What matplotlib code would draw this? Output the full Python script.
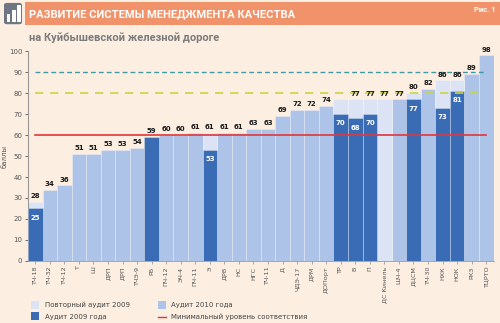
import matplotlib
matplotlib.use("Agg")
import matplotlib.pyplot as plt
from matplotlib.patches import Rectangle, FancyBboxPatch
from matplotlib.lines import Line2D
import numpy as np

categories = ["ТЧ-18", "ТЧ-32", "ТЧ-12", "Т", "Ш", "ДРП", "ДРП", "ТЧЭ-9", "РБ", "ПЧ-12",
              "ЭЧ-4", "ПЧ-11", "Э", "ДРВ", "НС", "НГС", "ТЧ-11", "Д", "ЧДЭ-17", "ДРМ",
              "ДОПорт", "ТР", "В", "П", "ДС Кинель", "ШЧ-4", "ДЦСМ", "ТЧ-30", "НХК", "НОК",
              "РКЗ", "ТЦРТО"]
# Аудит 2010 года (medium blue)
audit2010 = [0, 34, 36, 51, 51, 53, 53, 54, 0, 60,
             60, 61, 0, 61, 61, 63, 63, 69, 72, 72,
             74, 0, 0, 0, 0, 77, 0, 82, 0, 0,
             89, 98]
# Повторный аудит 2009 (pale)
repeat2009 = [28, 0, 0, 0, 0, 0, 0, 0, 0, 0,
              0, 0, 61, 0, 0, 0, 0, 0, 0, 0,
              0, 77, 77, 77, 77, 0, 80, 0, 86, 86,
              0, 0]
# Аудит 2009 года (dark blue)
audit2009 = [25, 0, 0, 0, 0, 0, 0, 0, 59, 0,
             0, 0, 53, 0, 0, 0, 0, 0, 0, 0,
             0, 70, 68, 70, 0, 0, 77, 0, 73, 81,
             0, 0]
top_labels = ["28", "34", "36", "51", "51", "53", "53", "54", "59", "60",
              "60", "61", "61", "61", "61", "63", "63", "69", "72", "72",
              "74", "", "77", "77", "77", "77", "80", "82", "86", "86",
              "89", "98"]
min_level = 60
target_80 = 80
target_90 = 90

BG = "#fcefe2"
PALE = "#dbe3f4"
MED = "#adc3e8"
DARK = "#3a6cb5"
RED = "#e2363a"

fig = plt.figure(figsize=(5.0, 3.23), dpi=100)
fig.patch.set_facecolor(BG)

# header
fig.patches.append(Rectangle((0.05, 0.922), 0.95, 0.072, transform=fig.transFigure,
                             facecolor="#f1936a", edgecolor="none"))
fig.patches.append(FancyBboxPatch((0.008, 0.925), 0.036, 0.066, boxstyle="round,pad=0,rounding_size=0.006",
                                  transform=fig.transFigure, facecolor="#6f7683", edgecolor="none"))
for i, h in enumerate([0.025, 0.038, 0.052]):
    fig.patches.append(Rectangle((0.013 + i * 0.011, 0.932), 0.007, h, transform=fig.transFigure,
                                 facecolor="white", edgecolor="none"))
fig.text(0.058, 0.955, "РАЗВИТИЕ СИСТЕМЫ МЕНЕДЖМЕНТА КАЧЕСТВА", color="white", fontsize=8.0,
         fontweight="bold", family="Roboto", va="center", ha="left")
fig.text(0.992, 0.982, "Рис. 1", color="white", fontsize=5.5, fontweight="bold",
         family="Roboto", va="top", ha="right")
fig.text(0.058, 0.882, "на Куйбышевской железной дороге", color="#7b7b7b", fontsize=8.0,
         fontweight="bold", family="Roboto", va="center", ha="left")

ax = fig.add_axes([0.056, 0.192, 0.931, 0.65])
ax.set_facecolor(BG)
x = np.arange(len(categories))
ec = (1, 1, 1, 0.4)
ax.bar(x, audit2010, width=1.0, color=MED, edgecolor=ec, linewidth=0.5, zorder=2)
ax.bar(x, repeat2009, width=1.0, color=PALE, edgecolor=ec, linewidth=0.5, zorder=2)
ax.bar(x, audit2009, width=1.0, color=DARK, edgecolor=ec, linewidth=0.5, zorder=3)

ax.plot([0, len(categories) - 1], [target_90, target_90], color="#3f9aa3", lw=1.0,
        dashes=(3.5, 2.2), zorder=4)
ax.plot([0, len(categories) - 1], [target_80, target_80], color="#c9d43f", lw=1.2,
        dashes=(5, 4), zorder=4)
ax.plot([0, len(categories) - 1], [min_level, min_level], color=RED, lw=1.2, zorder=4)

for i, lab in enumerate(top_labels):
    if lab:
        top = max(audit2010[i], repeat2009[i], audit2009[i])
        ax.text(i, top + 1.3, lab, ha="center", va="bottom", fontsize=5, fontweight="bold",
                color="#1a1a1a", family="DejaVu Sans", zorder=5)
for i, v in enumerate(audit2009):
    if v and (repeat2009[i] > v):
        ax.text(i, v - 3, str(v), ha="center", va="top", fontsize=5, fontweight="bold",
                color="white", family="DejaVu Sans", zorder=5)

ax.set_xlim(-0.5, len(categories) - 0.5)
ax.set_ylim(0, 100)
ax.set_yticks(range(0, 101, 10))
ax.tick_params(axis="y", labelsize=5, colors="#555555", length=2, width=0.6, pad=2)
ax.set_xticks(x)
ax.set_xticklabels(categories, rotation=90, fontsize=4.6, color="#555555")
ax.tick_params(axis="x", length=2, width=0.5, colors="#888888", pad=2, labelcolor="#555555")
for s in ["top", "right"]:
    ax.spines[s].set_visible(False)
ax.spines["left"].set_color("#999999")
ax.spines["left"].set_linewidth(0.8)
ax.spines["bottom"].set_color("#999999")
ax.spines["bottom"].set_linewidth(0.6)
ax.set_ylabel("баллы", fontsize=5, color="#555555", labelpad=1)

# legend
def sq(xf, yf, color):
    fig.patches.append(Rectangle((xf, yf - 0.011), 0.016, 0.024, transform=fig.transFigure,
                                 facecolor=color, edgecolor="none"))

sq(0.062, 0.055, PALE)
fig.text(0.09, 0.055, "Повторный аудит 2009", fontsize=5, color="#444444", va="center")
sq(0.062, 0.020, DARK)
fig.text(0.09, 0.020, "Аудит 2009 года", fontsize=5, color="#444444", va="center")
sq(0.316, 0.055, MED)
fig.text(0.342, 0.055, "Аудит 2010 года", fontsize=5, color="#444444", va="center")
fig.lines.append(Line2D([0.316, 0.332], [0.020, 0.020], transform=fig.transFigure, color=RED, lw=1.0))
fig.text(0.342, 0.020, "Минимальный уровень соответствия", fontsize=5, color="#444444", va="center")

fig.savefig("out.png", dpi=100, facecolor=BG)
